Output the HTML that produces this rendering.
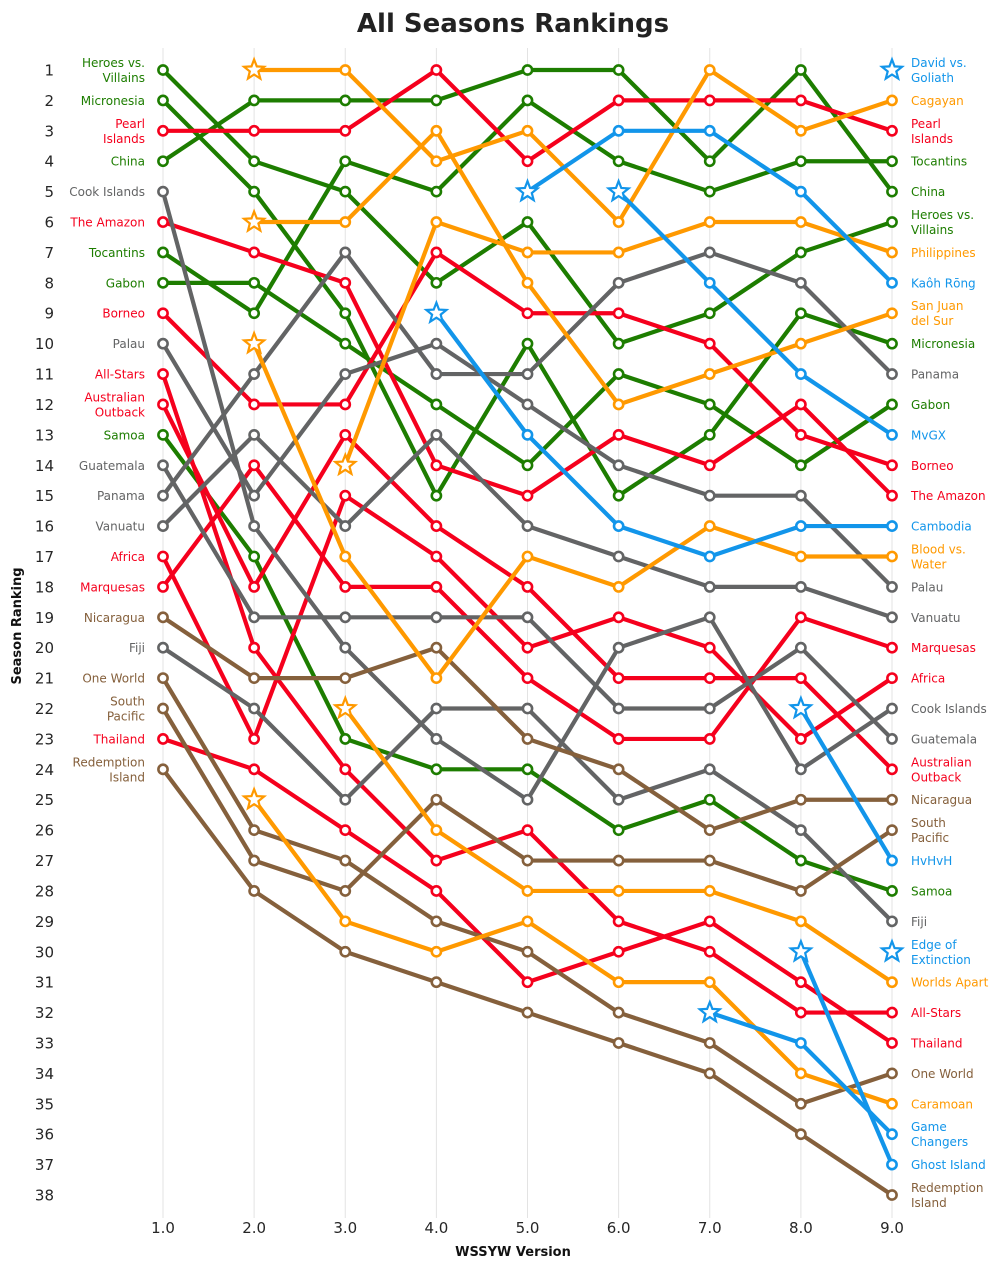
<!DOCTYPE html>
<html><head><meta charset="utf-8"><style>
html,body{margin:0;padding:0;background:#fff;}
svg{display:block;font-family:"DejaVu Sans","Liberation Sans",sans-serif;}
</style></head><body>
<svg id="chart" width="1006" height="1268" viewBox="0 0 1006 1268" xmlns="http://www.w3.org/2000/svg">
<text x="513" y="32" text-anchor="middle" font-size="26" font-weight="bold" fill="#222">All Seasons Rankings</text>
<text x="513" y="1256" text-anchor="middle" font-size="13" font-weight="bold" fill="#111">WSSYW Version</text>
<text transform="translate(21,626) rotate(-90)" text-anchor="middle" font-size="13" font-weight="bold" fill="#111">Season Ranking</text>
<g id="grid"></g><g id="axes"></g><g id="lines"></g><g id="labels"></g>
</svg>
<script>
const versions = [1,2,3,4,5,6,7,8,9];
const seasonNames = ["Heroes vs. Villains","Micronesia","China","Tocantins","Gabon","Samoa","Pearl Islands","The Amazon","Borneo","All-Stars","Australian Outback","Africa","Marquesas","Thailand","Cook Islands","Palau","Guatemala","Panama","Vanuatu","Fiji","Nicaragua","One World","South Pacific","Redemption Island","Cagayan","Philippines","San Juan del Sur","Blood vs. Water","Worlds Apart","Caramoan","Cambodia","Kaôh Rōng","MvGX","Game Changers","HvHvH","Ghost Island","David vs. Goliath","Edge of Extinction"];
const seasonGroups = ["g","g","g","g","g","g","r","r","r","r","r","r","r","r","k","k","k","k","k","k","b","b","b","b","o","o","o","o","o","o","u","u","u","u","u","u","u","u"];
const N = null;
const rankHvV = [1,4,5,8,6,10,9,7,6];
const rankMicronesia = [2,5,9,15,10,15,13,9,10];
const rankChina = [4,2,2,2,1,1,4,1,5];
const rankTocantins = [7,9,4,5,2,4,5,4,4];
const rankGabon = [8,8,10,12,14,11,12,14,12];
const rankSamoa = [13,17,23,24,24,26,25,27,28];
const rankPearl = [3,3,3,1,4,2,2,2,3];
const rankAmazon = [6,7,8,14,15,13,14,12,15];
const rankBorneo = [9,12,12,7,9,9,10,13,14];
const rankAllStars = [11,20,24,27,26,29,30,32,32];
const rankOutback = [12,18,13,16,18,21,21,21,24];
const rankAfrica = [17,23,15,17,20,19,20,23,21];
const rankMarquesas = [18,14,18,18,21,23,23,19,20];
const rankThailand = [23,24,26,28,31,30,29,31,33];
const rankCook = [5,16,20,23,25,20,19,24,22];
const rankPalau = [10,15,11,10,12,14,15,15,18];
const rankGuatemala = [14,19,19,19,19,22,22,20,23];
const rankPanama = [15,11,7,11,11,8,7,8,11];
const rankVanuatu = [16,13,16,13,16,17,18,18,19];
const rankFiji = [20,22,25,22,22,25,24,26,29];
const rankNicaragua = [19,21,21,20,23,24,26,25,25];
const rankOneWorld = [21,26,27,29,30,32,33,35,34];
const rankSouthPacific = [22,27,28,25,27,27,27,28,26];
const rankRedemption = [24,28,30,31,32,33,34,36,38];
const rankCagayan = [N,1,1,4,3,6,1,3,2];
const rankPhilippines = [N,N,14,6,7,7,6,6,7];
const rankSanJuan = [N,6,6,3,8,12,11,10,9];
const rankBvW = [N,10,17,21,17,18,16,17,17];
const rankWorldsApart = [N,N,22,26,28,28,28,29,31];
const rankCaramoan = [N,25,29,30,29,31,31,34,35];
const rankCambodia = [N,N,N,9,13,16,17,16,16];
const rankKaohRong = [N,N,N,N,5,3,3,5,8];
const rankMvGX = [N,N,N,N,N,5,8,11,13];
const rankGameChangers = [N,N,N,N,N,N,32,33,36];
const rankHvHvH = [N,N,N,N,N,N,N,22,27];
const rankGhostIsland = [N,N,N,N,N,N,N,30,37];
const rankDvG = [N,N,N,N,N,N,N,N,1];
const rankEoE = [N,N,N,N,N,N,N,N,30];
const rankTicks = [1,2,3,4,5,6,7,8,9,10,11,12,13,14,15,16,17,18,19,20,21,22,23,24,25,26,27,28,29,30,31,32,33,34,35,36,37,38];
const xTickLabels = ["1.0","2.0","3.0","4.0","5.0","6.0","7.0","8.0","9.0"];

const seriesRanks = [rankHvV,rankMicronesia,rankChina,rankTocantins,rankGabon,rankSamoa,rankPearl,rankAmazon,rankBorneo,rankAllStars,rankOutback,rankAfrica,rankMarquesas,rankThailand,rankCook,rankPalau,rankGuatemala,rankPanama,rankVanuatu,rankFiji,rankNicaragua,rankOneWorld,rankSouthPacific,rankRedemption,rankCagayan,rankPhilippines,rankSanJuan,rankBvW,rankWorldsApart,rankCaramoan,rankCambodia,rankKaohRong,rankMvGX,rankGameChangers,rankHvHvH,rankGhostIsland,rankDvG,rankEoE];

const COLORS = {g:"#1d7d00",r:"#f5001d",k:"#636465",b:"#85603c",o:"#ff9900",u:"#1295ea"};
const WRAP = {"Heroes vs. Villains":["Heroes vs.","Villains"],"Pearl Islands":["Pearl","Islands"],"Australian Outback":["Australian","Outback"],"South Pacific":["South","Pacific"],"Redemption Island":["Redemption","Island"],"David vs. Goliath":["David vs.","Goliath"],"San Juan del Sur":["San Juan","del Sur"],"Blood vs. Water":["Blood vs.","Water"],"Edge of Extinction":["Edge of","Extinction"],"Game Changers":["Game","Changers"]};
const NS = "http://www.w3.org/2000/svg";
function xs(v){ return 163 + (v-1)*91.125; }
function ys(r){ return 70 + (r-1)*(1195-70)/37; }
function mk(tag, attrs, parent){ const e=document.createElementNS(NS,tag); for(const k in attrs) e.setAttribute(k,attrs[k]); parent.appendChild(e); return e; }
function slug(s){ return s.toLowerCase().normalize("NFD").replace(/[\u0300-\u036f]/g,"").replace(/[^a-z0-9]+/g,"-").replace(/^-|-$/g,""); }

const grid=document.getElementById("grid"), axes=document.getElementById("axes"), lines=document.getElementById("lines"), labels=document.getElementById("labels");
versions.forEach((v,i)=>{
  const l=mk("line",{x1:xs(v),x2:xs(v),y1:48,y2:1218,stroke:"#e3e3e3","stroke-width":1},grid);
  
  
  const t=mk("text",{x:xs(v),y:1233,"text-anchor":"middle","font-size":15,fill:"#262626"},axes);
  t.textContent=xTickLabels[i];
  
  
});
rankTicks.forEach(r=>{
  const t=mk("text",{x:54,y:ys(r)+5.5,"text-anchor":"end","font-size":15,fill:"#262626"},axes);
  t.textContent=r;
  
  
});
function star(cx,cy,R,r){ let p=[]; for(let i=0;i<10;i++){ const a=-Math.PI/2+i*Math.PI/5; const rr=i%2?r:R; p.push((cx+rr*Math.cos(a)).toFixed(1)+","+(cy+rr*Math.sin(a)).toFixed(1)); } return p.join(" "); }
function addLabel(name,x,y,anchor,color){
  const parts=WRAP[name]||[name];
  const t=mk("text",{x:x,"text-anchor":anchor,"font-size":12,fill:color},labels);
  
  
  if(parts.length===1){ t.setAttribute("y",y+4.5); t.textContent=name; }
  else { parts.forEach((p,i)=>{ const s=mk("tspan",{x:x,y:y-3+i*15},t); s.textContent=p; }); }
}
seriesRanks.forEach((ranks,si)=>{
  const color=COLORS[seasonGroups[si]], name=seasonNames[si];
  const g=mk("g",{},lines);
  
  
  const pts=[]; versions.forEach((v,i)=>{ if(ranks[i]!==null) pts.push([xs(v),ys(ranks[i]),i]); });
  if(pts.length>1){
    const pl=mk("polyline",{points:pts.map(p=>p[0]+","+p[1]).join(" "),fill:"none",stroke:color,"stroke-width":4.2,"stroke-linejoin":"round"},g);
    
    
  }
  pts.forEach((p,k)=>{
    let m;
    if(k===0 && p[2]>0){ m=mk("polygon",{points:star(p[0],p[1],10.5,4.5),fill:"#fff",stroke:color,"stroke-width":2.2},g);  }
    else { m=mk("circle",{cx:p[0],cy:p[1],r:4.6,fill:"#fff",stroke:color,"stroke-width":2.6},g);  }
    
  });
  if(ranks[0]!==null) addLabel(name,145,ys(ranks[0]),"end",color);
  if(ranks[8]!==null) addLabel(name,911,ys(ranks[8]),"start",color);
});
</script>
</body></html>
